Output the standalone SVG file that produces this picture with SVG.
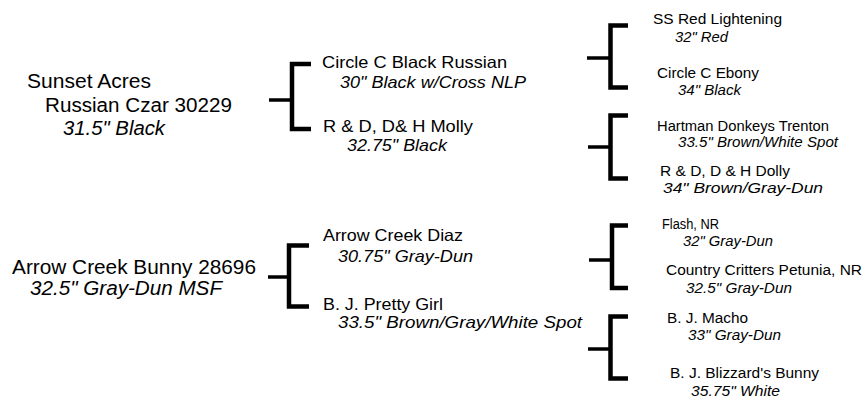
<svg xmlns="http://www.w3.org/2000/svg" width="865" height="398" viewBox="0 0 865 398">
<style>
text{font-family:"Liberation Sans",Arial,sans-serif;fill:#000}
.l1{font-size:19.5px}
.l2{font-size:16.5px}
.l3{font-size:14px}
.i{font-style:italic}
.br{fill:none;stroke:#000;stroke-width:4.5;stroke-linejoin:miter;stroke-linecap:butt}
.tl{fill:none;stroke:#000;stroke-width:3.5}
</style>
<rect width="865" height="398" fill="#fff"/>
<g id="connectors">
<path class="br" d="M311 64H292V129H311"/><path class="tl" d="M269 100H292"/>
<path class="br" d="M309 245.5H289V306.5H309"/><path class="tl" d="M268 277H289"/>
<path class="br" d="M628 25.5H610.5V87.5H628"/><path class="tl" d="M587 58H610"/>
<path class="br" d="M628 115.5H610.5V178.5H628"/><path class="tl" d="M588 147H610"/>
<path class="br" d="M628 225.5H612V288H628"/><path class="tl" d="M589 260H612"/>
<path class="br" d="M628 316.5H610.5V378.5H628"/><path class="tl" d="M588 349H610"/>
</g>
<g id="sunset-acres">
<text class="l1" x="27" y="88" textLength="124" lengthAdjust="spacingAndGlyphs">Sunset Acres</text>
<text class="l1" x="45" y="112" textLength="187" lengthAdjust="spacingAndGlyphs">Russian Czar 30229</text>
<text class="l1 i" x="63" y="135" textLength="102" lengthAdjust="spacingAndGlyphs">31.5" Black</text>
</g>
<g id="arrow-creek-bunny">
<text class="l1" x="12" y="274" textLength="244" lengthAdjust="spacingAndGlyphs">Arrow Creek Bunny 28696</text>
<text class="l1 i" x="30" y="295" textLength="192" lengthAdjust="spacingAndGlyphs">32.5" Gray-Dun MSF</text>
</g>
<g id="circle-c-black-russian">
<text class="l2" x="322" y="68" textLength="185" lengthAdjust="spacingAndGlyphs">Circle C Black Russian</text>
<text class="l2 i" x="340" y="88" textLength="186" lengthAdjust="spacingAndGlyphs">30" Black w/Cross NLP</text>
</g>
<g id="rd-dh-molly">
<text class="l2" x="323" y="131.5" textLength="150" lengthAdjust="spacingAndGlyphs">R &amp; D, D&amp; H Molly</text>
<text class="l2 i" x="347" y="151" textLength="100" lengthAdjust="spacingAndGlyphs">32.75" Black</text>
</g>
<g id="arrow-creek-diaz">
<text class="l2" x="323" y="240.5" textLength="140" lengthAdjust="spacingAndGlyphs">Arrow Creek Diaz</text>
<text class="l2 i" x="338" y="261.5" textLength="135" lengthAdjust="spacingAndGlyphs">30.75" Gray-Dun</text>
</g>
<g id="bj-pretty-girl">
<text class="l2" x="323" y="310" textLength="120" lengthAdjust="spacingAndGlyphs">B. J. Pretty Girl</text>
<text class="l2 i" x="338" y="328" textLength="244" lengthAdjust="spacingAndGlyphs">33.5" Brown/Gray/White Spot</text>
</g>
<g id="ss-red-lightening">
<text class="l3" x="653" y="24" textLength="129" lengthAdjust="spacingAndGlyphs">SS Red Lightening</text>
<text class="l3 i" x="675" y="42" textLength="53" lengthAdjust="spacingAndGlyphs">32" Red</text>
</g>
<g id="circle-c-ebony">
<text class="l3" x="657" y="78" textLength="102" lengthAdjust="spacingAndGlyphs">Circle C Ebony</text>
<text class="l3 i" x="678" y="95" textLength="63" lengthAdjust="spacingAndGlyphs">34" Black</text>
</g>
<g id="hartman-donkeys-trenton">
<text class="l3" x="657" y="130.5" textLength="172" lengthAdjust="spacingAndGlyphs">Hartman Donkeys Trenton</text>
<text class="l3 i" x="678" y="146.5" textLength="160" lengthAdjust="spacingAndGlyphs">33.5" Brown/White Spot</text>
</g>
<g id="rd-dh-dolly">
<text class="l3" x="660" y="176" textLength="130" lengthAdjust="spacingAndGlyphs">R &amp; D, D &amp; H Dolly</text>
<text class="l3 i" x="663" y="192.5" textLength="160" lengthAdjust="spacingAndGlyphs">34" Brown/Gray-Dun</text>
</g>
<g id="flash-nr">
<text class="l3" x="662" y="229" textLength="57" lengthAdjust="spacingAndGlyphs">Flash, NR</text>
<text class="l3 i" x="683" y="246" textLength="90" lengthAdjust="spacingAndGlyphs">32" Gray-Dun</text>
</g>
<g id="country-critters-petunia">
<text class="l3" x="666" y="275" textLength="196" lengthAdjust="spacingAndGlyphs">Country Critters Petunia, NR</text>
<text class="l3 i" x="686" y="292.5" textLength="106" lengthAdjust="spacingAndGlyphs">32.5" Gray-Dun</text>
</g>
<g id="bj-macho">
<text class="l3" x="667" y="323" textLength="81" lengthAdjust="spacingAndGlyphs">B. J. Macho</text>
<text class="l3 i" x="688" y="340" textLength="93" lengthAdjust="spacingAndGlyphs">33" Gray-Dun</text>
</g>
<g id="bj-blizzards-bunny">
<text class="l3" x="670" y="378" textLength="149" lengthAdjust="spacingAndGlyphs">B. J. Blizzard's Bunny</text>
<text class="l3 i" x="691" y="396" textLength="89" lengthAdjust="spacingAndGlyphs">35.75" White</text>
</g>
</svg>
